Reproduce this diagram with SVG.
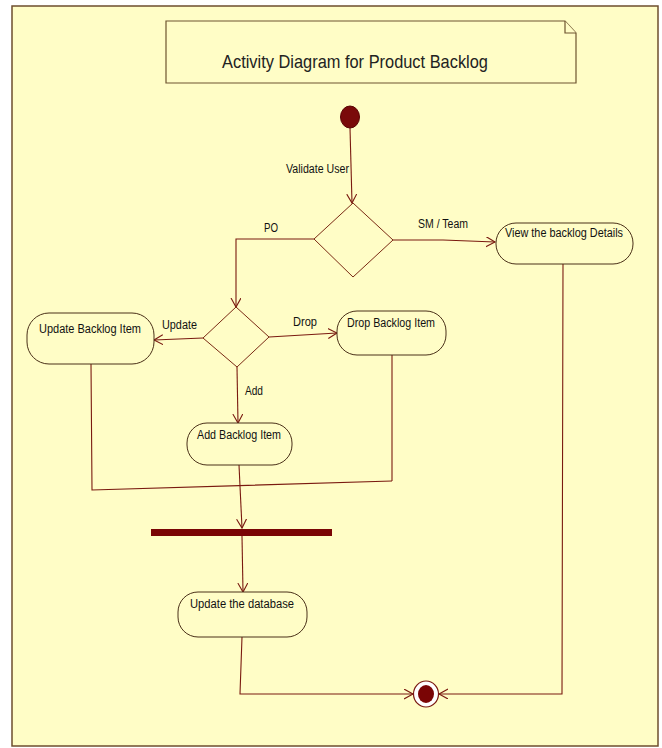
<svg xmlns="http://www.w3.org/2000/svg" width="662" height="748" viewBox="0 0 662 748">
  <style>
    .frame { fill: #FFFDC6; stroke: #6E4E2E; stroke-width: 1.5; }
    .note { fill: #FFFDC6; stroke: #6E5530; stroke-width: 1.2; }
    .act { fill: #FFFDC6; stroke: #4A3018; stroke-width: 1; }
    .dec { fill: #FFFDC6; stroke: #7A2A14; stroke-width: 1; }
    .edge { fill: none; stroke: #7A1A10; stroke-width: 1.1; }
    .lbl { font-family: "Liberation Sans", Arial, sans-serif; font-size: 12.5px; fill: #111; }
    .title { font-family: "Liberation Sans", Arial, sans-serif; font-size: 19px; fill: #222; }
  </style>
  <defs>
    <marker id="open" markerUnits="userSpaceOnUse" markerWidth="12" markerHeight="12" refX="9" refY="5" orient="auto">
      <path d="M0,0 L9,5 L0,10" fill="none" stroke="#7A1A10" stroke-width="1.1"/>
    </marker>
  </defs>

  <rect x="0" y="0" width="662" height="748" fill="#FFFFFF"/>
  <!-- outer frame -->
  <rect class="frame" x="12" y="6" width="646" height="740"/>

  <!-- title note with folded corner -->
  <g id="title-note">
    <path class="note" d="M166,21 L565,21 L576,33 L576,83 L166,83 Z"/>
    <path class="note" d="M565,21 L565,33 L576,33" fill="none"/>
    <text class="title" x="222" y="68" textLength="266" lengthAdjust="spacingAndGlyphs">Activity Diagram for Product Backlog</text>
  </g>

  <!-- connectors -->
  <g id="connectors">
    <path class="edge" d="M350,128 L352,203" marker-end="url(#open)"/>
    <path class="edge" d="M314,239 L236,239 L236,307" marker-end="url(#open)"/>
    <path class="edge" d="M393,240 L443,240 L495,242" marker-end="url(#open)"/>
    <path class="edge" d="M203,338 L154,340" marker-end="url(#open)"/>
    <path class="edge" d="M269,337 L337,333" marker-end="url(#open)"/>
    <path class="edge" d="M237,367 L238,423" marker-end="url(#open)"/>
    <path class="edge" d="M91,364 L92,490 L392,481"/>
    <path class="edge" d="M392,355 L392,481"/>
    <path class="edge" d="M239,465 L242,528" marker-end="url(#open)"/>
    <path class="edge" d="M242,536 L243,592" marker-end="url(#open)"/>
    <path class="edge" d="M242,637 L240,694 L413,694" marker-end="url(#open)"/>
    <path class="edge" d="M563,264 L562,694 L439,694" marker-end="url(#open)"/>
    <text class="lbl" x="286" y="173" textLength="63" lengthAdjust="spacingAndGlyphs">Validate User</text>
    <text class="lbl" x="264" y="232" textLength="14" lengthAdjust="spacingAndGlyphs">PO</text>
    <text class="lbl" x="418" y="228" textLength="50" lengthAdjust="spacingAndGlyphs">SM / Team</text>
    <text class="lbl" x="162" y="329" textLength="35" lengthAdjust="spacingAndGlyphs">Update</text>
    <text class="lbl" x="293" y="326" textLength="24" lengthAdjust="spacingAndGlyphs">Drop</text>
    <text class="lbl" x="245" y="395" textLength="18" lengthAdjust="spacingAndGlyphs">Add</text>
  </g>

  <!-- initial node -->
  <g id="start">
    <ellipse cx="350" cy="117" rx="9.5" ry="11" fill="#7A0A0A" stroke="#5A0505" stroke-width="1"/>
  </g>

  <!-- role decision -->
  <g id="role-decision">
    <path class="dec" d="M353,203 L393,240 L353,277 L314,239 Z"/>
  </g>

  <g id="view-backlog">
    <rect class="act" x="496" y="223" width="137" height="41" rx="20" ry="20"/>
    <text class="lbl" x="505" y="237" textLength="118" lengthAdjust="spacingAndGlyphs">View the backlog Details</text>
  </g>

  <!-- action decision -->
  <g id="action-decision">
    <path class="dec" d="M236,307 L269,337 L237,367 L203,338 Z"/>
  </g>

  <g id="update-item">
    <rect class="act" x="27" y="313" width="127" height="51" rx="22" ry="22"/>
    <text class="lbl" x="39" y="333" textLength="102" lengthAdjust="spacingAndGlyphs">Update Backlog Item</text>
  </g>

  <g id="drop-item">
    <rect class="act" x="337" y="311" width="109" height="44" rx="20" ry="20"/>
    <text class="lbl" x="347" y="327" textLength="88" lengthAdjust="spacingAndGlyphs">Drop Backlog Item</text>
  </g>

  <g id="add-item">
    <rect class="act" x="187" y="423" width="105" height="42" rx="20" ry="20"/>
    <text class="lbl" x="197" y="439" textLength="84" lengthAdjust="spacingAndGlyphs">Add Backlog Item</text>
  </g>

  <!-- synchronisation bar -->
  <g id="join-bar">
    <rect x="151" y="529" width="181" height="7" fill="#7A0505"/>
  </g>

  <g id="update-db">
    <rect class="act" x="178" y="592" width="129" height="45" rx="20" ry="20"/>
    <text class="lbl" x="190" y="608" textLength="104" lengthAdjust="spacingAndGlyphs">Update the database</text>
  </g>

  <!-- final node -->
  <g id="end">
    <ellipse cx="426" cy="694" rx="12.5" ry="13" fill="#FFFFFF" stroke="#7A1A10" stroke-width="1.2"/>
    <ellipse cx="426" cy="694" rx="8" ry="9" fill="#7A0505"/>
  </g>
</svg>
